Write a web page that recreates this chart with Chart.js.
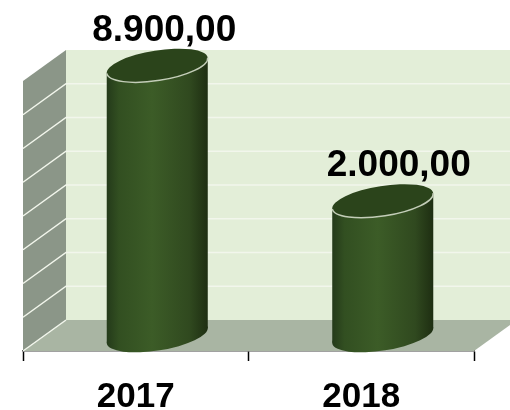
<!DOCTYPE html>
<html>
<head>
<meta charset="utf-8">
<script src="https://cdn.jsdelivr.net/npm/chart.js@4"></script>
<style>
  html, body { margin: 0; padding: 0; background: #fff; }
  canvas { display: block; }
</style>
</head>
<body>
<canvas id="chart" width="510" height="410"></canvas>
<script>
const years = ['2017', '2018'];
const amounts = [8900, 2000];
const amountLabels = ['8.900,00', '2.000,00'];
const axisMin = -4850;
const axisMax = 8900;

// fake 3d box depth
const DEPTH_X = 43;
const DEPTH_Y = 31;
const labelShift = [7, 16];

const box3d = {
  id: 'box3d',
  beforeDatasetsDraw(chart) {
    const { ctx, chartArea: a, scales: { y } } = chart;
    ctx.save();
    // back wall
    ctx.fillStyle = '#e3eed8';
    ctx.fillRect(a.left + DEPTH_X, a.top - DEPTH_Y, a.width, a.height);
    // left wall
    ctx.fillStyle = '#8b9688';
    poly(ctx, [[a.left, a.top], [a.left + DEPTH_X, a.top - DEPTH_Y], [a.left + DEPTH_X, a.bottom - DEPTH_Y], [a.left, a.bottom]]);
    ctx.fill();
    // floor
    ctx.fillStyle = '#a9b5a3';
    poly(ctx, [[a.left, a.bottom], [a.left + DEPTH_X, a.bottom - DEPTH_Y], [a.right + DEPTH_X, a.bottom - DEPTH_Y], [a.right, a.bottom]]);
    ctx.fill();
    // grid lines, skipping the floor and the top edge
    ctx.strokeStyle = '#f2f6ec';
    ctx.lineWidth = 1.5;
    y.ticks.forEach(t => {
      const py = y.getPixelForValue(t.value);
      if (Math.abs(py - a.top) < 1) return;
      ctx.beginPath();
      ctx.moveTo(a.left, py);
      ctx.lineTo(a.left + DEPTH_X, py - DEPTH_Y);
      if (py < a.bottom - 1) ctx.lineTo(a.right + DEPTH_X, py - DEPTH_Y);
      ctx.stroke();
    });
    ctx.restore();
  },
  afterDatasetsDraw(chart) {
    const { ctx } = chart;
    const bars = chart.getDatasetMeta(0).data;
    bars.forEach((bar, i) => {
      drawCylinder(ctx, bar.x + DEPTH_X / 2, bar.y - DEPTH_Y / 2, bar.base - DEPTH_Y / 2, bar.width / 2);
      ctx.save();
      ctx.fillStyle = '#000';
      ctx.font = 'bold 37px "Liberation Sans"';
      ctx.textAlign = 'center';
      ctx.textBaseline = 'middle';
      ctx.fillText(amountLabels[i], bar.x + DEPTH_X / 2 + labelShift[i], bar.y - DEPTH_Y / 2 - 35);
      ctx.restore();
    });
  }
};

function poly(ctx, pts) {
  ctx.beginPath();
  pts.forEach((p, i) => i ? ctx.lineTo(p[0], p[1]) : ctx.moveTo(p[0], p[1]));
  ctx.closePath();
}

function drawCylinder(ctx, cx, top, base, r) {
  const tilt = -9 * Math.PI / 180;
  const minor = 15;
  const major = Math.sqrt((r * r - minor * minor * Math.sin(tilt) ** 2) / Math.cos(tilt) ** 2);
  // where the vertical sides touch the tilted ellipse
  const dy = (major * major - minor * minor) * Math.sin(-tilt) * Math.cos(tilt) / r;

  const grad = ctx.createLinearGradient(cx - r, 0, cx + r, 0);
  grad.addColorStop(0, '#243a1a');
  grad.addColorStop(0.12, '#324f21');
  grad.addColorStop(0.45, '#3c5c27');
  grad.addColorStop(0.82, '#30491f');
  grad.addColorStop(1, '#1e2e12');

  ctx.save();
  ctx.fillStyle = grad;
  poly(ctx, [[cx - r, top + dy], [cx - r, base + dy], [cx + r, base - dy], [cx + r, top - dy]]);
  ctx.fill();
  ctx.beginPath();
  ctx.ellipse(cx, base, major, minor, tilt, 0, Math.PI * 2);
  ctx.fill();

  ctx.fillStyle = '#2b441b';
  ctx.beginPath();
  ctx.ellipse(cx, top, major, minor, tilt, 0, Math.PI * 2);
  ctx.fill();
  // light rim on the near edge of the cap
  ctx.strokeStyle = '#c3cdb8';
  ctx.lineWidth = 1.5;
  ctx.beginPath();
  ctx.ellipse(cx, top, major, minor, tilt, 0, Math.PI);
  ctx.stroke();
  ctx.restore();
}

new Chart(document.getElementById('chart'), {
  type: 'bar',
  data: {
    labels: years,
    datasets: [{
      label: 'Valor',
      data: amounts,
      base: axisMin,
      backgroundColor: 'rgba(0,0,0,0)',
      categoryPercentage: 1,
      barPercentage: 0.448
    }]
  },
  options: {
    responsive: false,
    animation: false,
    devicePixelRatio: 1,
    layout: { padding: { left: 23, right: 36, top: 81, bottom: 0 } },
    plugins: { legend: { display: false }, tooltip: { enabled: false }, title: { display: false } },
    scales: {
      x: {
        afterFit: s => { s.height = 59; },
        border: { color: '#444', width: 1.5 },
        grid: { drawOnChartArea: false, color: '#000', tickLength: 10, tickWidth: 1.5 },
        ticks: {
          color: '#000',
          padding: 15,
          maxRotation: 0,
          font: { family: '"Liberation Sans"', size: 35, weight: 'bold' }
        }
      },
      y: {
        min: axisMin,
        max: axisMax,
        afterFit: s => { s.width = 0; },
        border: { display: false },
        grid: { display: false },
        ticks: { display: false, count: 9 }
      }
    }
  },
  plugins: [box3d]
});
</script>
</body>
</html>
